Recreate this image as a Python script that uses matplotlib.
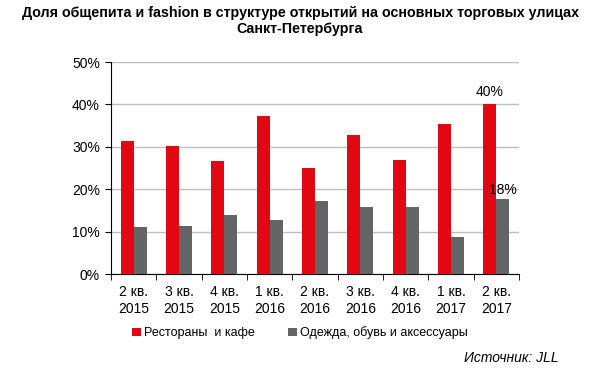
import matplotlib
matplotlib.use("Agg")
import matplotlib.pyplot as plt
import numpy as np

plt.rcParams['font.family'] = ['Liberation Sans', 'DejaVu Sans']

categories = ["2 кв.\n2015", "3 кв.\n2015", "4 кв.\n2015", "1 кв.\n2016", "2 кв.\n2016",
              "3 кв.\n2016", "4 кв.\n2016", "1 кв.\n2017", "2 кв.\n2017"]
restaurants = [31.4, 30.2, 26.7, 37.2, 24.9, 32.9, 27.0, 35.3, 40.0]
fashion = [11.2, 11.4, 13.8, 12.8, 17.2, 15.8, 15.8, 8.7, 17.6]
series_names = ["Рестораны  и кафе", "Одежда, обувь и аксессуары"]
yticks = [0, 10, 20, 30, 40, 50]

red = "#E30613"
gray = "#636466"

fig = plt.figure(figsize=(6, 3.68), dpi=100)
ax = fig.add_axes([111/600, 1-274/368, 408/600, 212/368])

x = np.arange(len(categories))
w = 0.29
b1 = ax.bar(x - w/2, restaurants, w, color=red, label=series_names[0], zorder=3)
b2 = ax.bar(x + w/2, fashion, w, color=gray, label=series_names[1], zorder=3)

ax.set_xlim(-0.5, len(categories) - 0.5)
ax.set_ylim(0, 50)
ax.set_yticks(yticks)
ax.set_yticklabels([f"{v}%" for v in yticks], fontsize=10)
ax.yaxis.grid(True, color="#BFBFBF", linewidth=1, zorder=0)
ax.set_axisbelow(True)

ax.set_xticks(x)
ax.set_xticklabels(categories, fontsize=10, linespacing=1.3)
ax.tick_params(axis='x', length=0, pad=8)
ax.set_xticks(np.arange(-0.5, len(categories)), minor=True)
ax.tick_params(axis='x', which='minor', length=4, direction='out', color='black')
ax.tick_params(axis='y', length=4, direction='out', color='black', pad=4)

for s in ['top', 'right']:
    ax.spines[s].set_visible(False)
ax.spines['left'].set_color('black')
ax.spines['bottom'].set_color('black')

ax.text(x[-1] - w/2, restaurants[-1] + 1.2, f"{restaurants[-1]:.0f}%", ha='center', va='bottom', fontsize=10)
ax.text(x[-1] + w/2, fashion[-1] + 0.6, f"{fashion[-1]:.0f}%", ha='center', va='bottom', fontsize=10)

fig.text(0.5, 1-6/368, "Доля общепита и fashion в структуре открытий на основных торговых улицах\nСанкт-Петербурга",
         ha='center', va='top', fontsize=10.3, fontweight='bold', linespacing=1.2)

leg = fig.legend(handles=[b1, b2], loc='center', bbox_to_anchor=(0.5, 1-333/368), ncol=2,
                 frameon=False, fontsize=9, handlelength=0.7, handleheight=0.7,
                 handletextpad=0.3, columnspacing=2.6)

fig.text(559/600, 1-358/368, "Источник: JLL", ha='right', va='center', fontsize=10, style='italic')

fig.savefig("out.png", dpi=100)
